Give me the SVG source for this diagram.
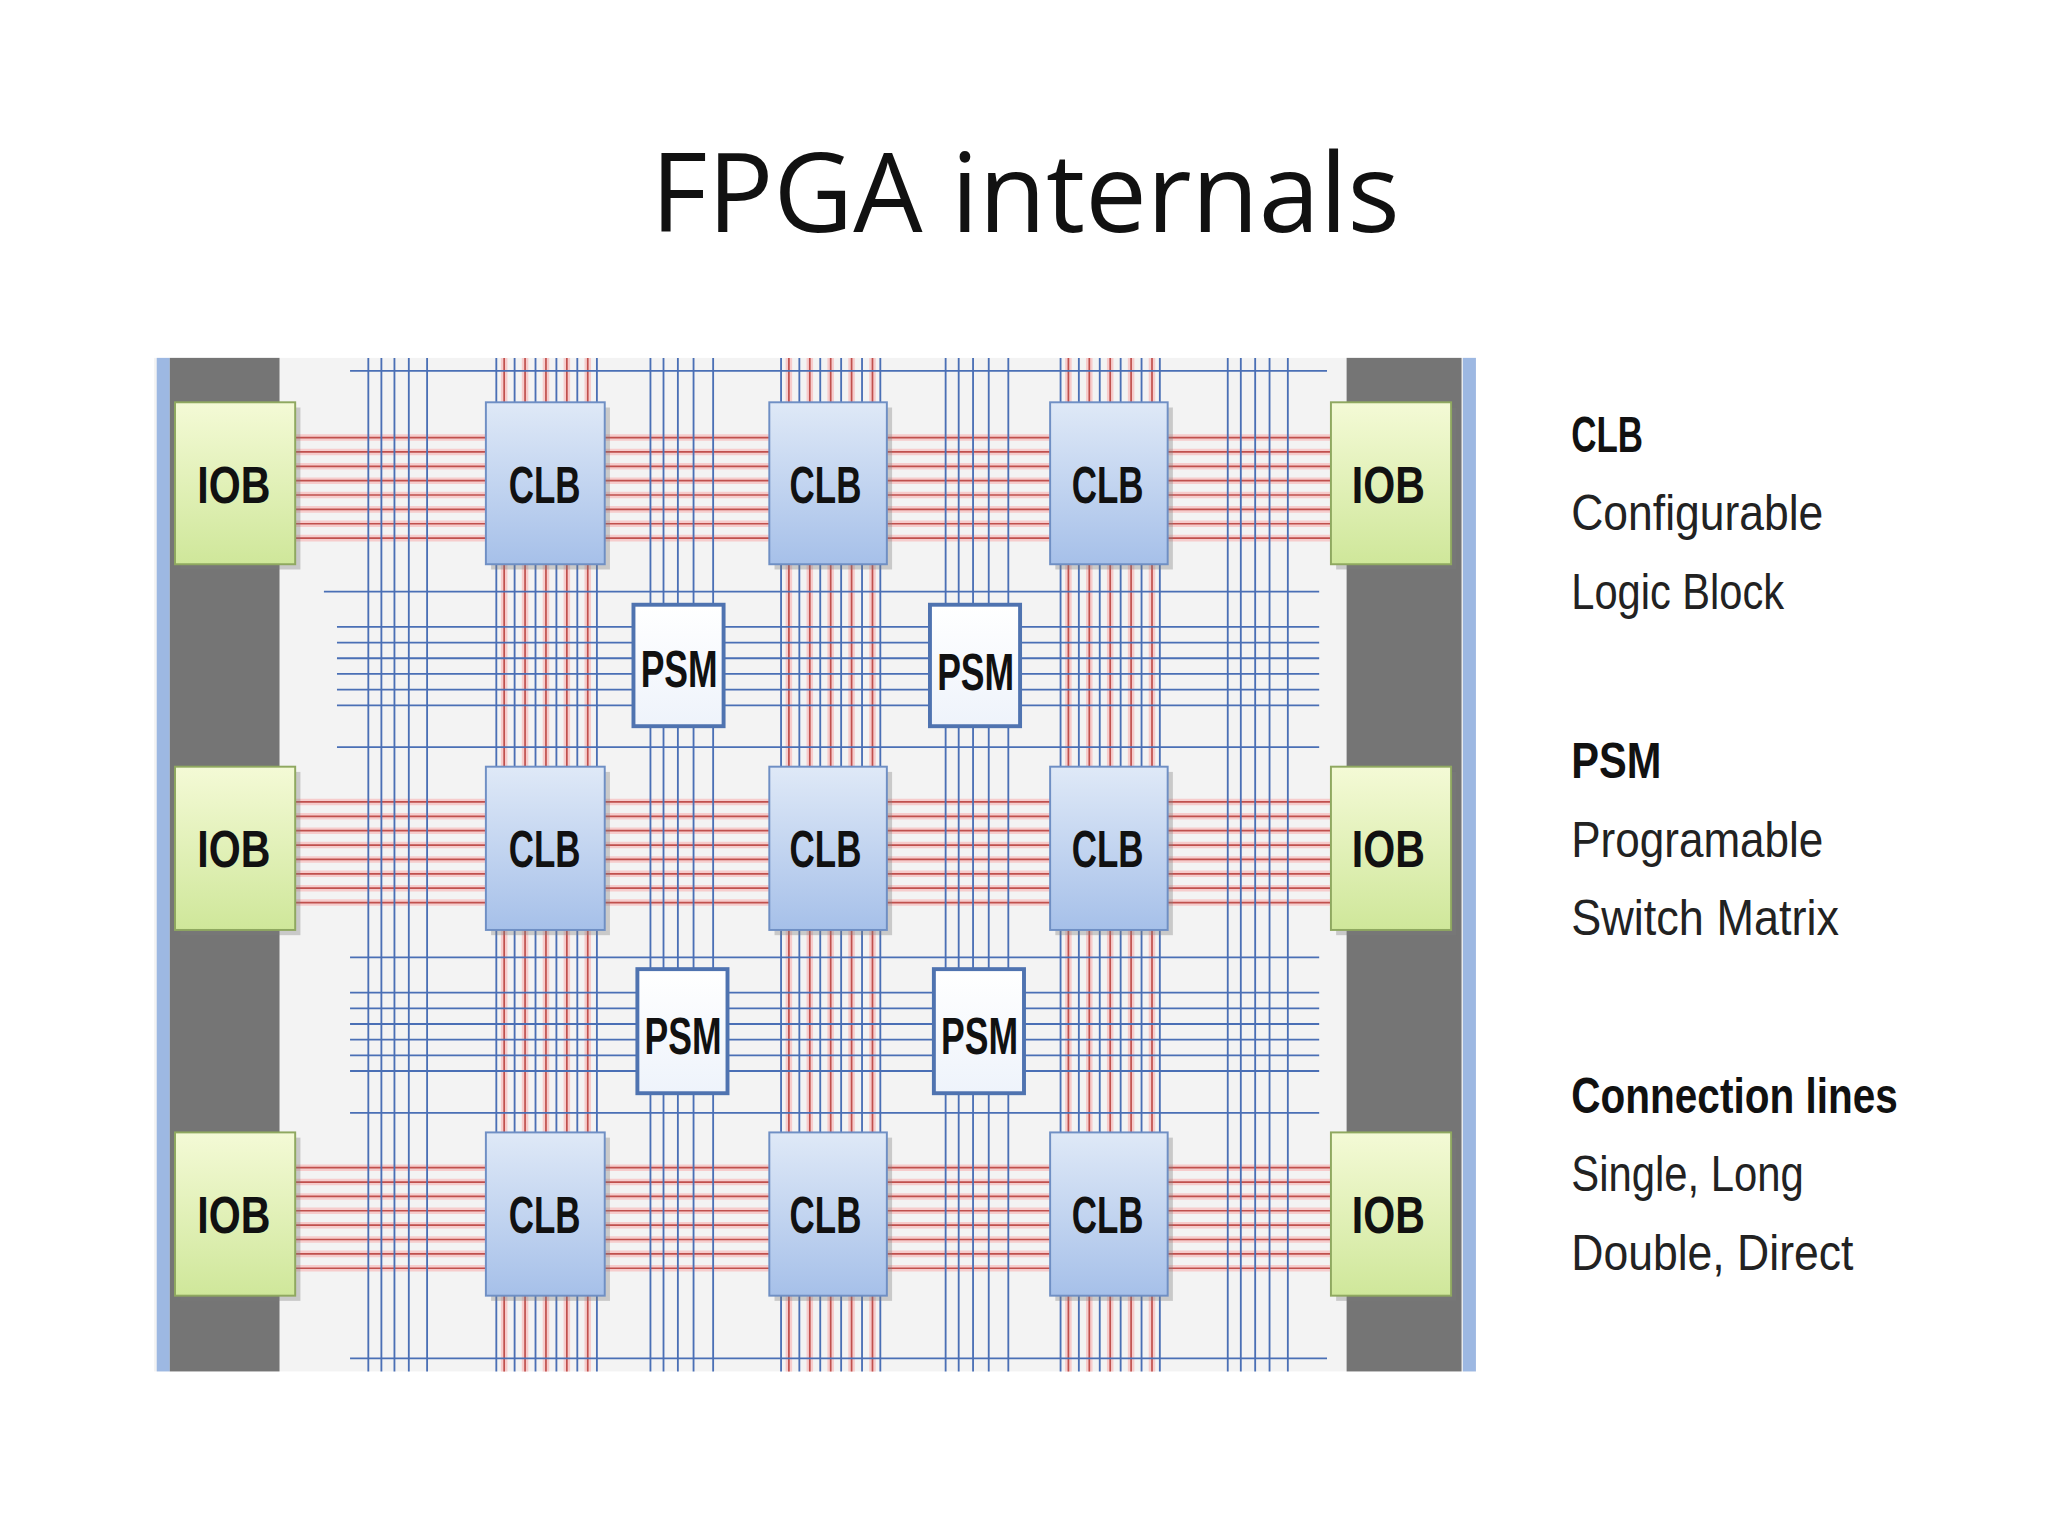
<svg xmlns="http://www.w3.org/2000/svg" width="2048" height="1536" viewBox="0 0 2048 1536">
<defs>
<linearGradient id="gG" x1="0" y1="0" x2="0" y2="1"><stop offset="0" stop-color="#f4fad6"/><stop offset="1" stop-color="#cfe79a"/></linearGradient>
<linearGradient id="gB" x1="0" y1="0" x2="0" y2="1"><stop offset="0" stop-color="#dfe9f7"/><stop offset="1" stop-color="#a6c0e9"/></linearGradient>
<linearGradient id="gW" x1="0" y1="0" x2="0" y2="1"><stop offset="0" stop-color="#ffffff"/><stop offset="1" stop-color="#eef3fb"/></linearGradient>
<style>
.t{font-family:"Open Sans","Liberation Sans",sans-serif;fill:#111}
.lbl{font-family:"Liberation Sans Narrow","Liberation Sans",sans-serif;font-weight:bold;font-size:40px;fill:#111;text-anchor:middle}
.leg{font-family:"Liberation Sans Narrow","Liberation Sans",sans-serif;font-size:38px;fill:#222}
.legb{font-weight:bold;fill:#111}
.iob{fill:url(#gG);stroke:#8fa860;stroke-width:1.5}
.clb{fill:url(#gB);stroke:#6f8fc4;stroke-width:1.5}
.psm{fill:url(#gW);stroke:#4f73b0;stroke-width:3}
.rg{stroke:#f6cccc;stroke-width:5;fill:none}
.rd{stroke:#c0504d;stroke-width:1.3;fill:none}
.bl{stroke:#4a6fb5;stroke-width:1.4;fill:none}
.shadow{fill:#7b7b7b;opacity:0.35}
</style>
</defs>
<rect width="2048" height="1536" fill="#fff"/>
<g transform="scale(1.30612)">
<text class="t" x="785" y="178" font-size="84" text-anchor="middle">FPGA internals</text>
<g id="board">
<rect x="118" y="274" width="1012" height="776" fill="#f3f3f3"/>
<rect x="120" y="274" width="10" height="776" fill="#9db8e2"/>
<rect x="1120" y="274" width="10" height="776" fill="#9db8e2"/>
<rect x="130" y="274" width="84" height="776" fill="#757575"/>
<rect x="1031" y="274" width="88" height="776" fill="#757575"/>
</g>
<g id="connectors">
<path class="rg" d="M226 335H1019M226 346H1019M226 357H1019M226 368H1019M226 379H1019M226 390H1019M226 401H1019M226 412H1019M226 614H1019M226 625H1019M226 636H1019M226 647H1019M226 658H1019M226 669H1019M226 680H1019M226 691H1019M226 894H1019M226 905H1019M226 916H1019M226 927H1019M226 938H1019M226 949H1019M226 960H1019M226 971H1019"/>
<path class="rd" d="M226 335H1019M226 346H1019M226 357H1019M226 368H1019M226 379H1019M226 390H1019M226 401H1019M226 412H1019M226 614H1019M226 625H1019M226 636H1019M226 647H1019M226 658H1019M226 669H1019M226 680H1019M226 691H1019M226 894H1019M226 905H1019M226 916H1019M226 927H1019M226 938H1019M226 949H1019M226 960H1019M226 971H1019"/>
<path class="rg" d="M386 274V1050M402 274V1050M418 274V1050M434 274V1050M450 274V1050M604 274V1050M620 274V1050M636 274V1050M652 274V1050M668 274V1050M818 274V1050M834 274V1050M850 274V1050M866 274V1050M882 274V1050"/>
<path class="rd" d="M386 274V1050M402 274V1050M418 274V1050M434 274V1050M450 274V1050M604 274V1050M620 274V1050M636 274V1050M652 274V1050M668 274V1050M818 274V1050M834 274V1050M850 274V1050M866 274V1050M882 274V1050"/>
<path class="bl" d="M380 274V1050M394 274V1050M410 274V1050M426 274V1050M442 274V1050M457 274V1050M598 274V1050M612 274V1050M628 274V1050M644 274V1050M660 274V1050M674 274V1050M812 274V1050M826 274V1050M842 274V1050M858 274V1050M874 274V1050M888 274V1050"/>
<path class="bl" d="M282 274V1050M292 274V1050M302 274V1050M313 274V1050M327 274V1050M498 274V1050M508 274V1050M519 274V1050M531 274V1050M546 274V1050M724 274V1050M734 274V1050M745 274V1050M757 274V1050M772 274V1050M940 274V1050M950 274V1050M961 274V1050M972 274V1050M986 274V1050"/>
<path class="bl" d="M268 284H1016M248 453H1010M258 480H1010M258 492H1010M258 504H1010M258 516H1010M258 528H1010M258 540H1010M258 572H1010M268 733H1010M268 760H1010M268 772H1010M268 784H1010M268 796H1010M268 808H1010M268 820H1010M268 852H1010M268 1040H1016"/>
</g>
<g id="iob-l1"><rect class="shadow" x="138" y="312" width="92" height="124"/><rect class="iob" x="134" y="308" width="92" height="124"/><text class="lbl" x="179" y="385" textLength="56" lengthAdjust="spacingAndGlyphs">IOB</text></g>
<g id="iob-l2"><rect class="shadow" x="138" y="591" width="92" height="125"/><rect class="iob" x="134" y="587" width="92" height="125"/><text class="lbl" x="179" y="664" textLength="56" lengthAdjust="spacingAndGlyphs">IOB</text></g>
<g id="iob-l3"><rect class="shadow" x="138" y="871" width="92" height="125"/><rect class="iob" x="134" y="867" width="92" height="125"/><text class="lbl" x="179" y="944" textLength="56" lengthAdjust="spacingAndGlyphs">IOB</text></g>
<g id="iob-r1"><rect class="shadow" x="1023" y="312" width="92" height="124"/><rect class="iob" x="1019" y="308" width="92" height="124"/><text class="lbl" x="1063" y="385" textLength="56" lengthAdjust="spacingAndGlyphs">IOB</text></g>
<g id="iob-r2"><rect class="shadow" x="1023" y="591" width="92" height="125"/><rect class="iob" x="1019" y="587" width="92" height="125"/><text class="lbl" x="1063" y="664" textLength="56" lengthAdjust="spacingAndGlyphs">IOB</text></g>
<g id="iob-r3"><rect class="shadow" x="1023" y="871" width="92" height="125"/><rect class="iob" x="1019" y="867" width="92" height="125"/><text class="lbl" x="1063" y="944" textLength="56" lengthAdjust="spacingAndGlyphs">IOB</text></g>
<g id="clb-11"><rect class="shadow" x="376" y="312" width="91" height="124"/><rect class="clb" x="372" y="308" width="91" height="124"/><text class="lbl" x="417" y="385" textLength="55" lengthAdjust="spacingAndGlyphs">CLB</text></g>
<g id="clb-12"><rect class="shadow" x="593" y="312" width="90" height="124"/><rect class="clb" x="589" y="308" width="90" height="124"/><text class="lbl" x="632" y="385" textLength="55" lengthAdjust="spacingAndGlyphs">CLB</text></g>
<g id="clb-13"><rect class="shadow" x="808" y="312" width="90" height="124"/><rect class="clb" x="804" y="308" width="90" height="124"/><text class="lbl" x="848" y="385" textLength="55" lengthAdjust="spacingAndGlyphs">CLB</text></g>
<g id="clb-21"><rect class="shadow" x="376" y="591" width="91" height="125"/><rect class="clb" x="372" y="587" width="91" height="125"/><text class="lbl" x="417" y="664" textLength="55" lengthAdjust="spacingAndGlyphs">CLB</text></g>
<g id="clb-22"><rect class="shadow" x="593" y="591" width="90" height="125"/><rect class="clb" x="589" y="587" width="90" height="125"/><text class="lbl" x="632" y="664" textLength="55" lengthAdjust="spacingAndGlyphs">CLB</text></g>
<g id="clb-23"><rect class="shadow" x="808" y="591" width="90" height="125"/><rect class="clb" x="804" y="587" width="90" height="125"/><text class="lbl" x="848" y="664" textLength="55" lengthAdjust="spacingAndGlyphs">CLB</text></g>
<g id="clb-31"><rect class="shadow" x="376" y="871" width="91" height="125"/><rect class="clb" x="372" y="867" width="91" height="125"/><text class="lbl" x="417" y="944" textLength="55" lengthAdjust="spacingAndGlyphs">CLB</text></g>
<g id="clb-32"><rect class="shadow" x="593" y="871" width="90" height="125"/><rect class="clb" x="589" y="867" width="90" height="125"/><text class="lbl" x="632" y="944" textLength="55" lengthAdjust="spacingAndGlyphs">CLB</text></g>
<g id="clb-33"><rect class="shadow" x="808" y="871" width="90" height="125"/><rect class="clb" x="804" y="867" width="90" height="125"/><text class="lbl" x="848" y="944" textLength="55" lengthAdjust="spacingAndGlyphs">CLB</text></g>
<g id="psm-11"><rect class="psm" x="485" y="463" width="69" height="93"/><text class="lbl" x="520" y="526" font-size="34" textLength="59" lengthAdjust="spacingAndGlyphs">PSM</text></g>
<g id="psm-12"><rect class="psm" x="712" y="463" width="69" height="93"/><text class="lbl" x="747" y="528" font-size="34" textLength="59" lengthAdjust="spacingAndGlyphs">PSM</text></g>
<g id="psm-21"><rect class="psm" x="488" y="742" width="69" height="95"/><text class="lbl" x="523" y="807" font-size="34" textLength="59" lengthAdjust="spacingAndGlyphs">PSM</text></g>
<g id="psm-22"><rect class="psm" x="715" y="742" width="69" height="95"/><text class="lbl" x="750" y="807" font-size="34" textLength="59" lengthAdjust="spacingAndGlyphs">PSM</text></g>
<g id="legend">
<text class="leg legb" x="1203" y="346" textLength="55" lengthAdjust="spacingAndGlyphs">CLB</text>
<text class="leg" x="1203" y="406" textLength="193" lengthAdjust="spacingAndGlyphs">Configurable</text>
<text class="leg" x="1203" y="466" textLength="163" lengthAdjust="spacingAndGlyphs">Logic Block</text>
<text class="leg legb" x="1203" y="596" textLength="69" lengthAdjust="spacingAndGlyphs">PSM</text>
<text class="leg" x="1203" y="656" textLength="193" lengthAdjust="spacingAndGlyphs">Programable</text>
<text class="leg" x="1203" y="716" textLength="205" lengthAdjust="spacingAndGlyphs">Switch Matrix</text>
<text class="leg legb" x="1203" y="852" textLength="250" lengthAdjust="spacingAndGlyphs">Connection lines</text>
<text class="leg" x="1203" y="912" textLength="178" lengthAdjust="spacingAndGlyphs">Single, Long</text>
<text class="leg" x="1203" y="972" textLength="216" lengthAdjust="spacingAndGlyphs">Double, Direct</text>
</g>
</g>
</svg>
